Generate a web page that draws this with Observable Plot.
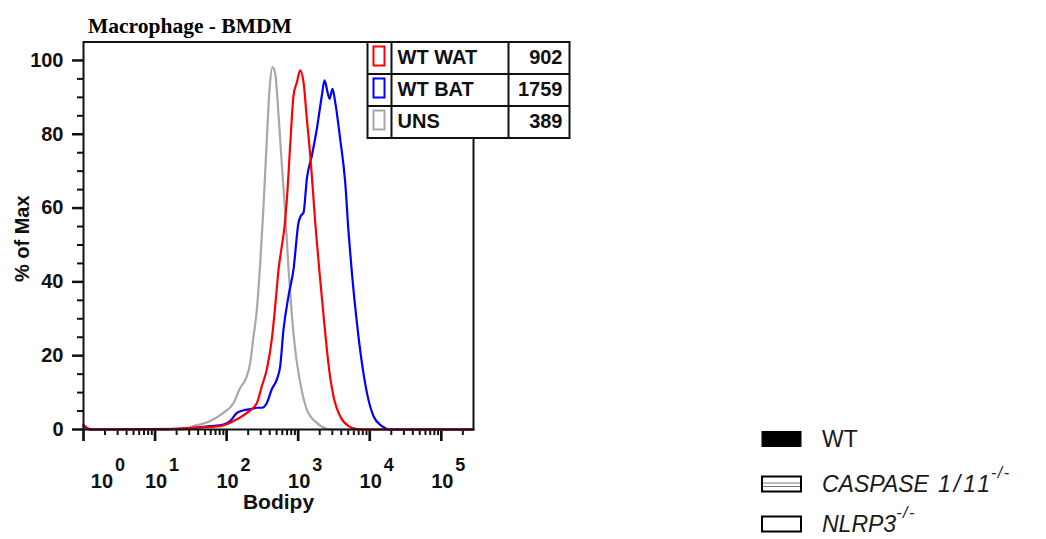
<!DOCTYPE html>
<html>
<head>
<meta charset="utf-8">
<script src="https://cdn.jsdelivr.net/npm/d3@7"></script>
<script src="https://cdn.jsdelivr.net/npm/@observablehq/plot@0.6"></script>
<style>
  html, body { margin: 0; padding: 0; background: #fff; }
  #chart { width: 1046px; height: 539px; }
</style>
</head>
<body>
<div id="chart"></div>
<script>
// Histogram overlay: Bodipy fluorescence of bone-marrow-derived macrophages
const seriesNames = ["WT WAT", "WT BAT", "UNS"];
const seriesColors = ["#ff0000", "#0000ff", "#a8a8a8"];
const seriesMedians = [902, 1759, 389];

// [Bodipy intensity, % of Max]
const unsCurve = [
  [1, 1.0], [1.25, 0], [22, 0], [34.5, 0.9], [59, 2.3], [90, 4.5], [125, 7.2], [155, 11.3],
  [188, 14.0], [214, 18.1], [238, 25.3], [265, 32.6], [295, 45.2], [328, 60.6], [365, 78.7],
  [398, 92.3], [438, 98.2], [478, 96.4], [532, 85.1], [592, 71.5], [659, 58.8], [733, 43.4],
  [817, 30.8], [908, 21.7], [1067, 12.7], [1321, 5.4], [1824, 1.8], [2518, 0.2], [3119, 0],
  [280000, 0]
];
const batCurve = [
  [1, 1.0], [1.25, 0], [22, 0.2], [59, 0.9], [90, 1.35], [112, 2.3], [139, 4.5], [172, 5.2],
  [225, 5.6], [265, 5.9], [311, 5.9], [365, 7.2], [428, 10.9], [504, 13.6], [561, 17.2],
  [624, 27.1], [733, 36.2], [861, 43.4], [1012, 56.1], [1091, 57.9], [1188, 58.8],
  [1321, 67.9], [1552, 74.2], [1824, 81.5], [2143, 90.5], [2333, 94.6], [2600, 91.0],
  [2744, 89.6], [3020, 92.3], [3290, 88.7], [3865, 78.7], [4539, 67.0], [5058, 53.4],
  [5626, 42.5], [6607, 29.0], [7762, 18.1], [9120, 10.0], [11300, 3.6], [14790, 0.9],
  [19320, 0], [280000, 0]
];
const watCurve = [
  [1, 1.2], [1.3, 0], [11.8, 0], [34.5, 0.45], [81, 0.9], [125, 2.3], [192, 4.5], [265, 7.2],
  [311, 11.8], [365, 16.3], [428, 24.4], [478, 33.5], [532, 43.4], [592, 49.8], [638, 54.3],
  [695, 62.4], [773, 76.9], [861, 90.5], [959, 94.1], [1067, 97.3], [1188, 94.1],
  [1321, 84.2], [1503, 72.4], [1730, 56.1], [1988, 42.5], [2311, 29.0], [2744, 15.4],
  [3187, 8.1], [3865, 3.6], [5058, 0.9], [6607, 0.1], [8190, 0], [280000, 0]
];

// Axis ticks and labels
const yTicks = [0, 20, 40, 60, 80, 100];
const yMinorTicks = [5, 10, 15, 25, 30, 35, 45, 50, 55, 65, 70, 75, 85, 90, 95];
const xDecades = [1, 10, 100, 1000, 10000, 100000];
const xTickExponents = ["0", "1", "2", "3", "4", "5"];
const xLabelAt = [1.75, 10, 100, 1000, 10000, 100000];

const xMax = 281800;
const xMinorTicks = xDecades.flatMap(d => d3.range(2, 10).map(m => m * d)).filter(v => v < xMax);

// Draw order: unstained underneath, then BAT, WAT on top
const curves = {"UNS": unsCurve, "WT BAT": batCurve, "WT WAT": watCurve};
const rows = ["UNS", "WT BAT", "WT WAT"].flatMap(name =>
  curves[name].map(([x, y]) => ({series: name, x, y}))
);
const xLabels = xLabelAt.map((at, i) => ({at, exp: xTickExponents[i]}));

const sans = "'Liberation Sans', Arial, Helvetica, sans-serif";
const ink = "#111";
const blank = () => "";

const chart = Plot.plot({
  width: 1046,
  height: 539,
  marginLeft: 83,
  marginRight: 573,
  marginTop: 41.5,
  marginBottom: 110,
  style: {background: "#fff", fontFamily: sans, overflow: "visible", color: ink},
  x: {type: "log", domain: [1, xMax], axis: null},
  y: {domain: [0, 105], axis: null},
  color: {domain: seriesNames, range: seriesColors},
  marks: [
    Plot.axisY(yMinorTicks, {tickSize: 6, strokeWidth: 2, stroke: ink, tickFormat: blank, label: null}),
    Plot.axisY(yTicks, {tickSize: 11, tickPadding: 9, strokeWidth: 2.5, stroke: ink, fontSize: 20, fontWeight: "bold", fill: ink, tickFormat: d => String(d), label: null}),
    Plot.axisX(xMinorTicks, {tickSize: 6, strokeWidth: 2, stroke: ink, tickFormat: blank, label: null}),
    Plot.axisX(xDecades, {tickSize: 12, strokeWidth: 2.7, stroke: ink, tickFormat: blank, label: null}),
    Plot.text(xLabels, {x: "at", text: () => "10", frameAnchor: "bottom", lineAnchor: "bottom", dy: 58, dx: 1, fontSize: 20, fontWeight: "bold", fill: ink}),
    Plot.text(xLabels, {x: "at", text: "exp", frameAnchor: "bottom", lineAnchor: "bottom", textAnchor: "start", dy: 41, dx: 14, fontSize: 18, fontWeight: "bold", fill: ink}),
    Plot.text(["Bodipy"], {text: d => d, frameAnchor: "bottom", lineAnchor: "bottom", textAnchor: "middle", dy: 79, fontSize: 21, fontWeight: "bold", fill: ink}),
    Plot.text(["% of Max"], {text: d => d, frameAnchor: "left", rotate: -90, textAnchor: "middle", lineAnchor: "bottom", dx: -55, dy: 3, fontSize: 20, fontWeight: "bold", fill: ink}),
    Plot.line(rows, {x: "x", y: "y", z: "series", stroke: "series", strokeWidth: 2.2, curve: "monotone-x"}),
    Plot.frame({stroke: ink, strokeWidth: 2})
  ]
});
document.getElementById("chart").appendChild(chart);

const svg = d3.select(chart);

// Title
svg.append("text")
  .attr("x", 88).attr("y", 33).attr("text-anchor", "start")
  .attr("font-family", "'Liberation Serif', 'Times New Roman', serif")
  .attr("font-weight", "bold").attr("font-size", 21.5).attr("fill", "#000")
  .text("Macrophage - BMDM");

// Sample table: swatch | name | median
const tbl = svg.append("g").attr("transform", "translate(367.5,42)").attr("text-anchor", "start");
const colW = [24, 117, 61], rowH = 32;
const tblW = d3.sum(colW), tblH = rowH * seriesNames.length;
tbl.append("rect").attr("width", tblW).attr("height", tblH)
  .attr("fill", "#fff").attr("stroke", ink).attr("stroke-width", 2);
[colW[0], colW[0] + colW[1]].forEach(x =>
  tbl.append("line").attr("x1", x).attr("x2", x).attr("y1", 0).attr("y2", tblH)
    .attr("stroke", ink).attr("stroke-width", 2));
d3.range(1, seriesNames.length).forEach(i =>
  tbl.append("line").attr("x1", 0).attr("x2", tblW).attr("y1", i * rowH).attr("y2", i * rowH)
    .attr("stroke", ink).attr("stroke-width", 2));
seriesNames.forEach((name, i) => {
  const y0 = i * rowH;
  tbl.append("rect").attr("x", 6).attr("y", y0 + 4.5).attr("width", 11).attr("height", 19)
    .attr("fill", "#fff").attr("stroke", seriesColors[i]).attr("stroke-width", 2);
  tbl.append("text").attr("x", colW[0] + 6).attr("y", y0 + 22).attr("text-anchor", "start")
    .attr("font-family", sans).attr("font-weight", "bold").attr("font-size", 20).attr("fill", ink)
    .text(name);
  tbl.append("text").attr("x", tblW - 7).attr("y", y0 + 22).attr("text-anchor", "end")
    .attr("font-family", sans).attr("font-weight", "bold").attr("font-size", 20).attr("fill", ink)
    .text(seriesMedians[i]);
});

// Genotype key
const key = svg.append("g").attr("font-family", sans).attr("fill", "#1a1a1a").attr("text-anchor", "start");
const genotypes = [
  {name: "WT", extra: "", sup: "", italic: false, fill: "#000", stripes: false},
  {name: "CASPASE", extra: "1/11", sup: "-/-", italic: true, fill: "#fff", stripes: true},
  {name: "NLRP3", extra: "", sup: "-/-", italic: true, fill: "#fff", stripes: false}
];
const keyBaselines = [446.5, 491.5, 531.5];
genotypes.forEach((g, i) => {
  const b = keyBaselines[i];
  key.append("rect").attr("x", 762).attr("y", b - 15).attr("width", 39).attr("height", 15)
    .attr("fill", g.fill).attr("stroke", "#000").attr("stroke-width", g.fill === "#000" ? 1 : 2);
  if (g.stripes) {
    [b - 8.5, b - 5].forEach(yy =>
      key.append("line").attr("x1", 763).attr("x2", 800).attr("y1", yy).attr("y2", yy)
        .attr("stroke", "#555").attr("stroke-width", 0.8));
  }
  const t = key.append("text").attr("x", 822).attr("y", b).attr("font-size", 23)
    .attr("text-anchor", "start")
    .attr("font-style", g.italic ? "italic" : "normal");
  t.append("tspan").text(g.name);
  if (g.extra) t.append("tspan").attr("dx", 9).attr("letter-spacing", 3).text(g.extra);
  if (g.sup) t.append("tspan").attr("font-size", 16).attr("letter-spacing", 1.5)
    .attr("dx", g.extra ? -2 : 0).attr("dy", -14).text(g.sup);
});
</script>
</body>
</html>
